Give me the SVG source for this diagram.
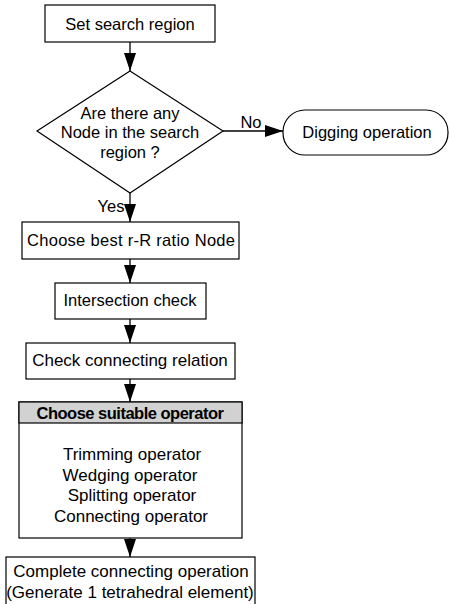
<svg xmlns="http://www.w3.org/2000/svg" width="449" height="604" viewBox="0 0 449 604">
<style>
.box{fill:#fff;stroke:#000;stroke-width:1.2}
.t{font-family:"Liberation Sans",Arial,sans-serif;font-size:16.5px;fill:#000;text-anchor:middle;dominant-baseline:central}
.t2{font-size:17px}
.hd{font-family:"Liberation Sans",Arial,sans-serif;font-size:16.5px;font-weight:bold;fill:#000;text-anchor:middle;dominant-baseline:central;letter-spacing:-0.5px}
.c{stroke:#000;stroke-width:1.3;fill:none;marker-end:url(#ah)}
</style>
<defs>
<marker id="ah" markerUnits="userSpaceOnUse" markerWidth="18" markerHeight="12" refX="18" refY="6" orient="auto">
<path d="M0,0 L18,6 L0,12 z" fill="#000"/>
</marker>
</defs>
<g id="connectors">
<line class="c" x1="130" y1="42" x2="130" y2="71"/>
<line class="c" x1="223" y1="131" x2="283" y2="131"/>
<line class="c" x1="130" y1="193" x2="130" y2="222"/>
<line class="c" x1="130" y1="259" x2="130" y2="283"/>
<line class="c" x1="130" y1="319" x2="130" y2="343"/>
<line class="c" x1="130" y1="379" x2="130" y2="402"/>
<line class="c" x1="130" y1="538" x2="130" y2="557"/>
<text class="t" x="251" y="122">No</text>
<text class="t" x="111" y="206">Yes</text>
</g>
<g id="n1">
<rect class="box" x="45" y="5" width="170" height="37"/>
<text class="t" x="130" y="24">Set search region</text>
</g>
<g id="n2">
<polygon class="box" points="130,71 223,131 130,193 37,131"/>
<text class="t" x="130" y="113">Are there any</text>
<text class="t" x="130" y="132">Node in the search</text>
<text class="t" x="130" y="152">region ?</text>
</g>
<g id="n3">
<rect class="box" x="283" y="110" width="165" height="45" rx="22" ry="22"/>
<text class="t" x="367" y="132">Digging operation</text>
</g>
<g id="n4">
<rect class="box" x="22" y="222" width="217" height="37"/>
<text class="t" x="131" y="240" textLength="208" lengthAdjust="spacing">Choose best r-R ratio Node</text>
</g>
<g id="n5">
<rect class="box" x="55" y="283" width="151" height="36"/>
<text class="t" x="130" y="300">Intersection check</text>
</g>
<g id="n6">
<rect class="box" x="26" y="343" width="209" height="36"/>
<text class="t t2" x="130" y="360">Check connecting relation</text>
</g>
<g id="n7">
<rect class="box" x="19" y="402" width="223" height="136"/>
<rect x="19" y="402" width="223" height="21" fill="#d2d2d2" stroke="#000" stroke-width="1.2"/>
<text class="hd" x="130" y="412.5">Choose suitable operator</text>
<text class="t t2" x="132" y="454">Trimming operator</text>
<text class="t t2" x="130" y="475">Wedging operator</text>
<text class="t t2" x="132" y="495">Splitting operator</text>
<text class="t t2" x="131" y="516">Connecting operator</text>
</g>
<g id="n8">
<rect class="box" x="6" y="557" width="249" height="50"/>
<text class="t t2" x="131" y="571">Complete connecting operation</text>
<text class="t t2" x="130" y="592">(Generate 1 tetrahedral element)</text>
</g>
</svg>
